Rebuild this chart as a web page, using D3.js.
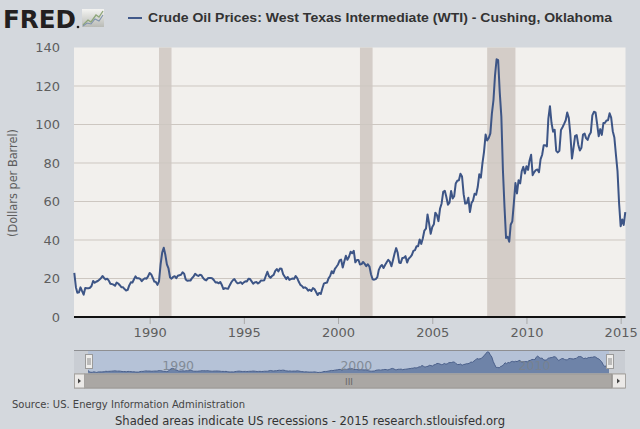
<!DOCTYPE html>
<html>
<head>
<meta charset="utf-8">
<script src="https://cdn.jsdelivr.net/npm/d3@7"></script>
<style>
    body { margin: 0; background: #d4d8dd; }
    svg { display: block; font-family: "DejaVu Sans", Verdana, sans-serif; }
</style>
</head>
<body>
<div id="chart"></div>
<script>
// Monthly WTI spot price, Cushing (dollars per barrel), Jan 1986 - Apr 2015
var startMonth = "1986-01";
var wti = [
    22.9, 15.5, 12.6, 12.8, 15.4, 13.4, 11.6, 15.1, 14.9, 14.9, 15.2, 16.1,  // 1986
    18.7, 17.8, 18.3, 18.7, 19.4, 20.1, 21.3, 20.3, 19.5, 19.9, 18.9, 17.3,  // 1987
    17.1, 16.8, 16.2, 17.9, 17.4, 16.5, 15.5, 15.5, 14.5, 13.8, 14.1, 16.4,  // 1988
    18.0, 17.9, 19.5, 21.1, 20.1, 20.1, 19.8, 18.6, 19.6, 20.1, 19.9, 21.1,  // 1989
    22.9, 22.1, 20.4, 18.4, 18.2, 16.7, 18.5, 27.3, 33.5, 36.0, 32.3, 27.3,  // 1990
    25.2, 20.5, 19.9, 20.8, 21.2, 20.2, 21.4, 21.7, 21.9, 23.2, 22.5, 19.5,  // 1991
    18.8, 19.0, 18.9, 20.2, 21.0, 22.4, 21.8, 21.3, 21.9, 21.7, 20.3, 19.4,  // 1992
    19.0, 20.1, 20.3, 20.3, 20.0, 19.1, 17.9, 18.0, 17.5, 18.2, 16.6, 14.5,  // 1993
    15.0, 14.8, 14.7, 16.4, 17.9, 19.1, 19.7, 18.4, 17.5, 17.7, 18.1, 17.2,  // 1994
    18.0, 18.6, 18.5, 19.9, 19.7, 18.5, 17.3, 18.0, 18.2, 17.4, 18.0, 19.0,  // 1995
    18.9, 19.1, 21.3, 23.5, 21.2, 20.4, 21.3, 21.9, 24.0, 24.9, 23.7, 25.2,  // 1996
    25.1, 22.2, 21.0, 19.7, 20.8, 19.3, 19.7, 20.0, 19.8, 21.3, 20.2, 18.3,  // 1997
    16.7, 16.1, 15.1, 15.4, 14.9, 13.7, 14.2, 13.5, 15.0, 14.5, 13.0, 11.4,  // 1998
    12.5, 12.0, 14.7, 17.3, 17.7, 17.9, 20.1, 21.3, 23.8, 22.7, 25.0, 26.1,  // 1999
    27.3, 29.4, 29.8, 25.7, 28.8, 31.8, 29.7, 31.3, 33.9, 33.1, 34.4, 28.4,  // 2000
    29.6, 29.6, 27.3, 27.5, 28.6, 27.6, 26.4, 27.4, 26.2, 22.2, 19.6, 19.4,  // 2001
    19.7, 20.7, 24.5, 26.2, 27.0, 25.5, 27.0, 28.4, 29.7, 28.8, 26.4, 29.5,  // 2002
    33.0, 35.8, 33.5, 28.2, 28.1, 30.7, 30.8, 31.6, 28.3, 30.3, 31.1, 32.1,  // 2003
    34.3, 34.7, 36.7, 36.8, 40.3, 38.0, 40.8, 44.9, 45.9, 53.3, 48.5, 43.2,  // 2004
    46.8, 48.2, 54.2, 53.0, 49.8, 56.4, 59.0, 65.0, 65.6, 62.3, 58.3, 59.4,  // 2005
    65.5, 61.6, 62.7, 69.4, 70.8, 71.0, 74.4, 73.0, 63.8, 58.9, 59.1, 62.0,  // 2006
    54.5, 59.3, 60.4, 64.0, 63.5, 67.5, 74.1, 72.4, 79.9, 85.8, 94.8, 91.7,  // 2007
    93.0, 95.4, 105.5, 112.6, 125.4, 133.9, 133.4, 116.7, 104.1, 76.6, 57.3, 41.1,  // 2008
    41.7, 39.1, 47.9, 49.7, 59.0, 69.6, 64.2, 71.1, 69.4, 75.7, 78.0, 74.5,  // 2009
    78.3, 76.4, 81.2, 84.3, 73.7, 75.3, 76.3, 76.6, 75.2, 81.9, 84.3, 89.2,  // 2010
    89.2, 88.6, 102.9, 109.5, 100.9, 96.3, 97.3, 86.3, 85.5, 86.3, 97.2, 98.6,  // 2011
    100.3, 102.2, 106.2, 103.3, 94.7, 82.3, 87.9, 94.1, 94.5, 89.5, 86.5, 87.9,  // 2012
    94.8, 95.3, 92.9, 92.0, 94.5, 95.8, 104.7, 106.6, 106.3, 100.5, 93.9, 97.6,  // 2013
    94.6, 100.8, 100.8, 102.1, 102.2, 105.8, 103.6, 96.5, 93.2, 84.4, 75.8, 59.3,  // 2014
    47.2, 50.6, 47.8, 54.5                                                        // 2015
];
var recessions = [["1990-07", "1991-03"], ["2001-03", "2001-11"], ["2007-12", "2009-06"]];
var yTicks = [0, 20, 40, 60, 80, 100, 120, 140];
var xTickYears = [1990, 1995, 2000, 2005, 2010, 2015];
var navTickYears = [1990, 2000, 2010];

var w = 640, h = 429;
var plot = { left: 74, right: 625.5, top: 47.5, bottom: 317 };
var nav = { left: 74, right: 625, top: 350, bottom: 373.5, scrollBottom: 388.5 };

var parseMonth = d3.timeParse("%Y-%m");
var start = parseMonth(startMonth);
var data = wti.map((v, i) => ({ date: d3.timeMonth.offset(start, i), value: v }));
var lastDate = data[data.length - 1].date;

var svg = d3.select("#chart").append("svg")
    .attr("width", w)
    .attr("height", h);

svg.append("rect").attr("width", w).attr("height", h).attr("fill", "#d4d8dd");

// Header: logo and legend title
var logo = svg.append("g");
logo.append("text")
    .attr("x", 3).attr("y", 28)
    .attr("textLength", 73).attr("lengthAdjust", "spacingAndGlyphs")
    .style("font-family", "'DejaVu Sans', sans-serif")
    .style("font-weight", "900")
    .style("font-size", "25px")
    .attr("fill", "#231f20")
    .text("FRED");
logo.append("circle").attr("cx", 78).attr("cy", 27).attr("r", 1.3).attr("fill", "#231f20");
var grad = svg.append("defs").append("linearGradient").attr("id", "icon").attr("x1", 0).attr("y1", 0).attr("x2", 0).attr("y2", 1);
grad.append("stop").attr("offset", 0).attr("stop-color", "#f4f4f2");
grad.append("stop").attr("offset", 1).attr("stop-color", "#b9bbb6");
logo.append("rect").attr("x", 82).attr("y", 9).attr("width", 22).attr("height", 18).attr("fill", "url(#icon)");
logo.append("path").attr("d", "M83,25 L88,20 L91,22 L96,15 L99,17 L103,11")
    .attr("fill", "none").attr("stroke", "#8fa77a").attr("stroke-width", 1.3);
logo.append("path").attr("d", "M83,26 L87,23 L91,24 L95,19 L99,21 L103,15")
    .attr("fill", "none").attr("stroke", "#7f93ad").attr("stroke-width", 1.1);

svg.append("line")
    .attr("x1", 128).attr("x2", 142).attr("y1", 18).attr("y2", 18)
    .attr("stroke", "#41598a").attr("stroke-width", 2);
svg.append("text")
    .attr("x", 148).attr("y", 22)
    .attr("textLength", 464).attr("lengthAdjust", "spacingAndGlyphs")
    .style("font-family", "'Liberation Sans', Arial, sans-serif")
    .style("font-size", "12.5px").style("font-weight", "bold")
    .attr("fill", "#333")
    .text("Crude Oil Prices: West Texas Intermediate (WTI) - Cushing, Oklahoma");

// Scales
var x = d3.scaleTime()
    .domain([start, lastDate])
    .range([plot.left + 0.3, plot.right - 0.2]);
var y = d3.scaleLinear()
    .domain([0, 140])
    .range([plot.bottom, plot.top]);

// Plot background
svg.append("rect")
    .attr("x", plot.left).attr("y", plot.top)
    .attr("width", plot.right - plot.left).attr("height", plot.bottom - plot.top)
    .attr("fill", "#f2f0ed");

// Recession bars
svg.selectAll(".recession")
    .data(recessions)
    .enter()
    .append("rect")
    .attr("class", "recession")
    .attr("x", d => x(parseMonth(d[0])))
    .attr("width", d => x(parseMonth(d[1])) - x(parseMonth(d[0])))
    .attr("y", plot.top)
    .attr("height", plot.bottom - plot.top)
    .attr("fill", "#d4cdc8");

// Grid lines
svg.selectAll(".grid")
    .data(yTicks.filter(t => t > 0 && t < 140))
    .enter()
    .append("line")
    .attr("class", "grid")
    .attr("x1", plot.left).attr("x2", plot.right)
    .attr("y1", d => y(d)).attr("y2", d => y(d))
    .attr("stroke", "#cdc7c1").attr("stroke-width", 1);

// Y axis labels
var yAxis = d3.axisLeft(y).tickValues(yTicks).tickSize(0).tickPadding(14);
var gy = svg.append("g")
    .attr("transform", `translate(${plot.left}, 0)`)
    .call(yAxis);
gy.select(".domain").remove();
gy.selectAll("text")
    .style("font-size", "13px")
    .style("font-family", "'DejaVu Sans', sans-serif")
    .attr("fill", "#5e5e5e");

svg.append("text")
    .attr("transform", `translate(17, 183) rotate(-90)`)
    .attr("text-anchor", "middle")
    .attr("textLength", 108).attr("lengthAdjust", "spacingAndGlyphs")
    .style("font-size", "11.5px")
    .attr("fill", "#5e5e5e")
    .text("(Dollars per Barrel)");

// X axis
var xAxis = d3.axisBottom(x)
    .tickValues(xTickYears.map(yr => new Date(yr, 0, 1)))
    .tickFormat(d3.timeFormat("%Y"))
    .tickSize(7).tickPadding(4);
var gx = svg.append("g")
    .attr("transform", `translate(0, ${plot.bottom})`)
    .call(xAxis);
gx.select(".domain").remove();
gx.selectAll(".tick line").attr("stroke", "#a9a9a9");
gx.selectAll("text")
    .style("font-size", "13px")
    .style("font-family", "'DejaVu Sans', sans-serif")
    .attr("fill", "#5e5e5e");
svg.append("line")
    .attr("x1", plot.left).attr("x2", plot.right)
    .attr("y1", plot.bottom).attr("y2", plot.bottom)
    .attr("stroke", "#111").attr("stroke-width", 2);

// Price line
var line = d3.line()
    .x(d => x(d.date))
    .y(d => y(d.value));
svg.append("path")
    .datum(data)
    .attr("d", line)
    .attr("fill", "none")
    .attr("stroke", "#3d5586")
    .attr("stroke-width", 2)
    .attr("stroke-linejoin", "round");

// Navigator
var navX = d3.scaleTime()
    .domain([start, lastDate])
    .range([88, 609]);
var navY = d3.scaleLinear()
    .domain([d3.min(wti), d3.max(wti)])
    .range([nav.bottom - 1, nav.top + 2]);

svg.append("rect")
    .attr("x", nav.left).attr("y", nav.top)
    .attr("width", nav.right - nav.left).attr("height", nav.bottom - nav.top)
    .attr("fill", "#c9cdd3");
svg.append("rect")
    .attr("x", navX.range()[0]).attr("y", nav.top + 1)
    .attr("width", navX.range()[1] - navX.range()[0]).attr("height", nav.bottom - nav.top - 1)
    .attr("fill", "#b5c2d7");
svg.append("line")
    .attr("x1", nav.left).attr("x2", nav.right)
    .attr("y1", nav.top + 0.5).attr("y2", nav.top + 0.5)
    .attr("stroke", "#8e8f92");

var navArea = d3.area()
    .x(d => navX(d.date))
    .y0(nav.bottom)
    .y1(d => navY(d.value));
svg.append("path")
    .datum(data)
    .attr("d", navArea)
    .attr("fill", "#6e83a8");
svg.append("path")
    .datum(data)
    .attr("d", d3.line().x(d => navX(d.date)).y(d => navY(d.value)))
    .attr("fill", "none")
    .attr("stroke", "#4a5f8a")
    .attr("stroke-width", 1);

svg.selectAll(".navlabel")
    .data(navTickYears)
    .enter()
    .append("text")
    .attr("class", "navlabel")
    .attr("x", d => navX(new Date(d, 0, 1)) + 3)
    .attr("y", 370)
    .style("font-size", "12.5px")
    .attr("fill", "#7a828d")
    .attr("opacity", 0.85)
    .text(d => d);

// Navigator handles
[navX.range()[0] - 3, navX.range()[1] - 3].forEach(hx => {
    svg.append("rect")
        .attr("x", hx + 0.5).attr("y", 354.5)
        .attr("width", 7).attr("height", 14)
        .attr("fill", "#eeedeb").attr("stroke", "#9a9a9a");
    [hx + 3, hx + 5].forEach(lx => {
        svg.append("line")
            .attr("x1", lx).attr("x2", lx).attr("y1", 358).attr("y2", 365)
            .attr("stroke", "#8a8a8a");
    });
});

// Scrollbar
svg.append("rect")
    .attr("x", nav.left).attr("y", nav.bottom)
    .attr("width", nav.right - nav.left).attr("height", nav.scrollBottom - nav.bottom)
    .attr("fill", "#a9a6a3");
svg.append("rect")
    .attr("x", 84.5).attr("y", nav.bottom + 0.5)
    .attr("width", 527).attr("height", nav.scrollBottom - nav.bottom - 1)
    .attr("fill", "#aaa7a4").attr("stroke", "#9c9996");
svg.append("text")
    .attr("x", 349).attr("y", 385)
    .attr("text-anchor", "middle")
    .style("font-size", "9px")
    .attr("fill", "#666")
    .text("III");
[[nav.left, 10, "M81,381 L78,378.5 L78,383.5 Z"], [612, 13, "M617,378.5 L620,381 L617,383.5 Z"]].forEach(b => {
    svg.append("rect")
        .attr("x", b[0] + 0.5).attr("y", nav.bottom + 0.5)
        .attr("width", b[1]).attr("height", nav.scrollBottom - nav.bottom - 1)
        .attr("fill", "#ebe9e7").attr("stroke", "#a5a3a0");
    svg.append("path").attr("d", b[2]).attr("fill", "#444");
});

// Footer
svg.append("text")
    .attr("x", 12).attr("y", 408)
    .attr("textLength", 233).attr("lengthAdjust", "spacingAndGlyphs")
    .style("font-size", "10px")
    .attr("fill", "#444")
    .text("Source: US. Energy Information Administration");
svg.append("text")
    .attr("x", 115).attr("y", 424.5)
    .attr("textLength", 390).attr("lengthAdjust", "spacingAndGlyphs")
    .style("font-size", "13px")
    .attr("fill", "#333")
    .text("Shaded areas indicate US recessions - 2015 research.stlouisfed.org");
</script>
</body>
</html>
